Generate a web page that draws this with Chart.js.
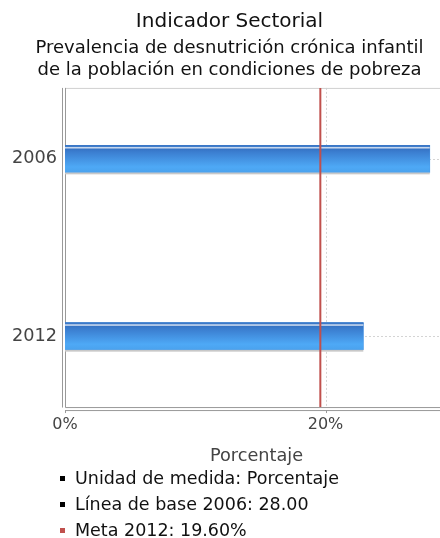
<!DOCTYPE html>
<html>
<head>
<meta charset="utf-8">
<script src="https://cdn.jsdelivr.net/npm/chart.js@4.4.1/dist/chart.umd.min.js"></script>
<style>
  html, body { margin: 0; padding: 0; background: #fff; overflow: hidden; }
  #wrap { position: relative; width: 440px; height: 538px; overflow: hidden; }
  canvas { position: absolute; left: 0; top: 0; }
  #legend { position: absolute; left: 58px; top: 465px; margin: 0; padding: 0; list-style: none;
    font-family: "DejaVu Sans", sans-serif; font-size: 17.5px; color: #111; }
  #legend li { position: relative; padding-left: 17px; height: 26px; line-height: 26px; white-space: nowrap; }
  #legend li span { position: absolute; left: 2px; top: 11px; width: 5px; height: 5px; }
</style>
</head>
<body>
<div id="wrap">
  <canvas id="chart" width="458" height="471"></canvas>
  <ul id="legend"></ul>
</div>
<script>
// data
const years = [2006, 2012]
const values = [28.0, 22.9]
const meta = 19.6
const xTicks = [0, 20]
const legendItems = [
    { text: 'Unidad de medida: Porcentaje', color: '#000' },
    { text: 'Línea de base 2006: 28.00', color: '#000' },
    { text: 'Meta 2012: 19.60%', color: '#c0504d' }
]

const FONT = '"DejaVu Sans", sans-serif'

// legend below the chart
const ul = document.getElementById('legend')
legendItems.forEach(it => {
    const li = document.createElement('li')
    const sq = document.createElement('span')
    sq.style.background = it.color
    li.appendChild(sq)
    li.appendChild(document.createTextNode(it.text))
    ul.appendChild(li)
})

// dotted grid, plot frame and the offset axis lines
const framePlugin = {
    id: 'frame',
    beforeDatasetsDraw(chart) {
        const { ctx, chartArea: a, scales } = chart
        ctx.save()
        ctx.lineWidth = 1
        ctx.strokeStyle = '#d4d4d4'
        ctx.setLineDash([2, 2])
        ctx.beginPath()
        xTicks.slice(1).forEach(t => {
            const px = Math.round(scales.x.getPixelForValue(t)) + 0.5
            ctx.moveTo(px, a.top)
            ctx.lineTo(px, a.bottom)
        })
        years.forEach(y => {
            const py = Math.round(scales.y.getPixelForValue(y)) + 0.5
            ctx.moveTo(a.left, py)
            ctx.lineTo(a.right, py)
        })
        ctx.stroke()
        ctx.setLineDash([])
        ctx.strokeStyle = '#d0d0d0'
        ctx.beginPath()
        ctx.moveTo(a.left, a.top + 0.5)
        ctx.lineTo(a.right, a.top + 0.5)
        ctx.stroke()
        ctx.strokeStyle = '#999'
        ctx.beginPath()
        ctx.moveTo(a.left + 0.5, a.top)
        ctx.lineTo(a.left + 0.5, a.bottom + 0.5)
        ctx.lineTo(a.right, a.bottom + 0.5)
        ctx.moveTo(a.left - 2.5, a.top)
        ctx.lineTo(a.left - 2.5, a.bottom + 0.5)
        ctx.moveTo(a.left, a.bottom + 3.5)
        ctx.lineTo(a.right, a.bottom + 3.5)
        xTicks.forEach(t => {
            const px = Math.round(scales.x.getPixelForValue(t)) + 0.5
            ctx.moveTo(px, a.bottom + 3.5)
            ctx.lineTo(px, a.bottom + 6)
        })
        ctx.stroke()
        ctx.restore()
    }
}

// glossy bars + target line
const barPlugin = {
    id: 'bars',
    afterDatasetsDraw(chart) {
        const { ctx, chartArea: a, scales } = chart
        const meta0 = chart.getDatasetMeta(0)
        ctx.save()
        meta0.data.forEach(bar => {
            const p = bar.getProps(['x', 'y', 'base', 'height'], true)
            const left = Math.min(p.base, p.x), w = Math.abs(p.x - p.base)
            const top = p.y - p.height / 2, h = p.height
            ctx.fillStyle = '#c8c8c8'
            ctx.fillRect(left, top + h, w, 2)
            const g = ctx.createLinearGradient(0, top, 0, top + h)
            g.addColorStop(0, '#3068b8')
            g.addColorStop(0.25, '#3b7ed0')
            g.addColorStop(0.8, '#4ea9f6')
            g.addColorStop(1, '#4aa2ee')
            ctx.fillStyle = g
            ctx.fillRect(left, top, w, h)
            ctx.fillStyle = '#3b78c8'
            ctx.fillRect(left, top, w, 1.6)
            ctx.fillStyle = '#c6d7ee'
            ctx.fillRect(left, top + 1.6, w, 1.6)
        })
        const mx = scales.x.getPixelForValue(meta)
        ctx.strokeStyle = '#c0504d'
        ctx.lineWidth = 2
        ctx.beginPath()
        ctx.moveTo(mx, a.top)
        ctx.lineTo(mx, a.bottom)
        ctx.stroke()
        ctx.restore()
    }
}

new Chart(document.getElementById('chart'), {
    type: 'bar',
    data: {
        datasets: [{
            data: years.map((y, i) => ({ x: values[i], y: y })),
            backgroundColor: '#4796e6',
            barThickness: 27,
            borderWidth: 0
        }]
    },
    options: {
        indexAxis: 'y',
        responsive: false,
        animation: false,
        layout: { padding: { left: 11, right: 10, top: 0, bottom: 0 } },
        plugins: {
            legend: { display: false },
            tooltip: { enabled: false },
            title: {
                display: true,
                text: 'Indicador Sectorial',
                color: '#111',
                font: { family: FONT, size: 20, weight: 'normal' },
                padding: { top: 10, bottom: 3 }
            },
            subtitle: {
                display: true,
                text: ['Prevalencia de desnutrición crónica infantil', 'de la población en condiciones de pobreza'],
                color: '#111',
                font: { family: FONT, size: 18, lineHeight: 1.22 },
                padding: { top: 0, bottom: 7 }
            }
        },
        scales: {
            x: {
                type: 'linear',
                min: 0,
                max: 29.4,
                afterBuildTicks: s => { s.ticks = xTicks.map(v => ({ value: v })) },
                ticks: {
                    color: '#444',
                    padding: 8,
                    font: { family: FONT, size: 16 },
                    callback: v => v + '%'
                },
                grid: { display: false, drawTicks: false },
                border: { display: false },
                title: {
                    display: true,
                    text: 'Porcentaje',
                    color: '#444',
                    font: { family: FONT, size: 17.7 },
                    padding: { top: 3.5, bottom: 4 }
                }
            },
            y: {
                type: 'linear',
                reverse: true,
                offset: false,
                min: 2003.6,
                max: 2014.4,
                afterBuildTicks: s => { s.ticks = years.map(v => ({ value: v })) },
                afterFit: s => { s.width = 54 },
                ticks: {
                    color: '#444',
                    padding: 8,
                    font: { family: FONT, size: 17.7 },
                    callback: v => String(v)
                },
                grid: { display: false, drawTicks: false, offset: false },
                border: { display: false }
            }
        }
    },
    plugins: [framePlugin, barPlugin]
})
</script>
</body>
</html>
